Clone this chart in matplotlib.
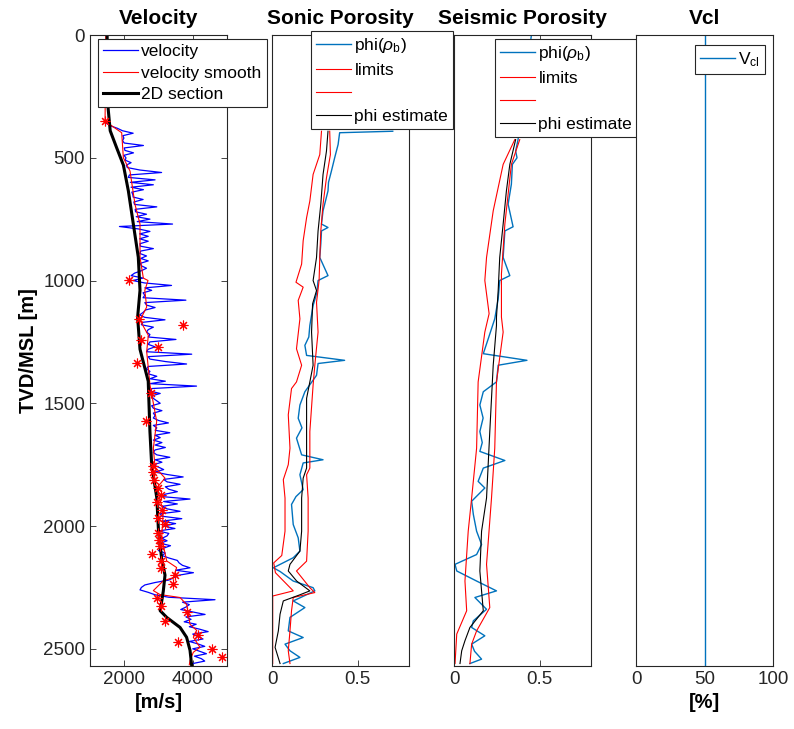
import numpy as np
import matplotlib
matplotlib.use("Agg")
import matplotlib.pyplot as plt

plt.rcParams["font.family"] = ["Liberation Sans", "DejaVu Sans"]
plt.rcParams["mathtext.fontset"] = "custom"
plt.rcParams["mathtext.rm"] = "Liberation Sans"
plt.rcParams["mathtext.it"] = "Liberation Sans:italic"

# ---- velocity panel ----
vel_depth = np.arange(360, 2561, 10)
vel_log = [
    1480, 1600, 1800, 1950, 2260, 1960, 1990, 1950, 2000, 2560,
    2000, 2020, 2270, 1990, 2050, 2030, 2200, 2060, 2090, 2460,
    3090, 2150, 2120, 2900, 2180, 2850, 2200, 2560, 2220, 2250,
    2260, 2550, 2280, 2300, 2950, 2320, 2330, 2650, 2350, 2750,
    2380, 3410, 1860, 2420, 2750, 2450, 2700, 2450, 2700, 2460,
    2470, 2850, 2480, 2460, 2650, 2480, 2700, 2470, 2500, 2650,
    2500, 2300, 2200, 2550, 2250, 2600, 3380, 2600, 2800, 2550,
    2600, 2550, 3800, 2600, 2650, 2900, 2620, 2550, 2450, 2600,
    3190, 2550, 2500, 2850, 2700, 2650, 2750, 2700, 3510, 2750,
    2700, 2900, 2700, 2650, 3970, 2700, 2750, 3200, 3820, 2700,
    2650, 2750, 2700, 2950, 2750, 3200, 2750, 4110, 2800, 2750,
    3050, 2800, 2850, 2950, 3050, 2800, 2850, 3100, 2850, 2900,
    2850, 3000, 3290, 2850, 2950, 2900, 3330, 2900, 3050, 2850,
    3100, 2900, 3200, 2900, 2850, 2950, 3330, 2900, 3100, 2850,
    3000, 3150, 2900, 3250, 3720, 3150, 3250, 3630, 3200, 3300,
    3550, 3200, 3100, 3920, 3150, 3550, 3100, 3250, 3630, 3050,
    3100, 3680, 3100, 3500, 3150, 3480, 3000, 3300, 3250, 3100,
    3250, 3050, 3350, 3150, 3000, 3200, 3100, 3300, 3550, 3600,
    3700, 3920, 3500, 4020, 3600, 3450, 3300, 2900, 2600, 2500,
    2460, 2700, 2900, 3300, 4650, 3700, 3900, 3800, 3650, 4000,
    4360, 3800, 3950, 3750, 4100, 3900, 4200, 4450, 4000, 4150,
    4300, 3900, 4150, 4350, 4000, 4200, 4400, 4050, 4250, 4350,
    4000,
]

smooth_depth = [0, 351, 398, 500, 554, 690, 770, 905, 990, 1000, 1040, 1108,
                1162, 1223, 1290, 1426, 1500, 1574, 1683, 1760, 1805, 1845,
                1940, 2048, 2142, 2169, 2210, 2223, 2263, 2279, 2291, 2320,
                2400, 2425, 2453, 2494, 2514, 2547, 2565]
smooth_vel = [1460, 1440, 1925, 1974, 2168, 2314, 2460, 2460, 2557, 2694, 2600,
              2655, 2460, 2703, 2655, 2752, 2850, 2947, 2849, 2900, 3190, 2947,
              3140, 3093, 3239, 3530, 3433, 3140, 2849, 3044, 3628, 3823, 3920,
              4115, 4017, 4212, 4017, 3920, 3900]

section_depth = [0, 300, 390, 460, 530, 635, 770, 905, 1040, 1150, 1280, 1410,
                 1615, 1750, 1885, 2020, 2130, 2200, 2265, 2345, 2372, 2413,
                 2453, 2506, 2570]
section_vel = [1500, 1530, 1590, 1780, 1975, 2120, 2265, 2410, 2460, 2390, 2460,
               2700, 2750, 2800, 2950, 3000, 3090, 3190, 3140, 3050, 3240, 3630,
               3820, 3920, 3970]

check_depth = [351, 996, 1156, 1183, 1244, 1271, 1334, 1460, 1571, 1757, 1780,
               1811, 1845, 1872, 1902, 1933, 1967, 1991, 2028, 2055, 2082, 2113,
               2143, 2172, 2199, 2234, 2294, 2325, 2352, 2386, 2442, 2474, 2501,
               2534]
check_vel = [1438, 2148, 2440, 3705, 2479, 2995, 2382, 2771, 2635, 2829, 2849,
             2868, 2995, 3063, 2946, 3092, 2995, 3189, 2995, 3024, 3043, 2800,
             3063, 3063, 3481, 3413, 2966, 3063, 3822, 3189, 4162, 3579, 4551,
             4843]

# ---- sonic porosity panel ----
son_phi_depth = [392, 398, 446, 500, 554, 600, 635, 716, 770, 784, 798, 850, 906,
                 980, 1000, 1050, 1102, 1183, 1230, 1264, 1305, 1325, 1338, 1386,
                 1453, 1507, 1561, 1600, 1642, 1710, 1730, 1743, 1791, 1852, 1880,
                 1912, 1994, 2048, 2102, 2129, 2170, 2185, 2224, 2251, 2264, 2305,
                 2332, 2372, 2427, 2454, 2481, 2508, 2535, 2560]
son_phi = [0.705, 0.395, 0.386, 0.366, 0.347, 0.330, 0.327, 0.298, 0.289, 0.327,
           0.289, 0.285, 0.279, 0.327, 0.269, 0.262, 0.240, 0.221, 0.215, 0.192,
           0.202, 0.424, 0.269, 0.260, 0.192, 0.163, 0.153, 0.175, 0.143, 0.173,
           0.298, 0.182, 0.163, 0.182, 0.140, 0.114, 0.124, 0.153, 0.163, 0.124,
           0.008, 0.047, 0.124, 0.240, 0.250, 0.124, 0.192, 0.105, 0.095, 0.182,
           0.076, 0.105, 0.163, 0.066]

son_est_depth = [392, 473, 568, 689, 798, 906, 1000, 1041, 1095, 1210, 1345, 1413,
                 1480, 1723, 1764, 1805, 1886, 2021, 2102, 2156, 2183, 2224, 2264,
                 2280, 2305, 2359, 2427, 2494, 2560]
son_est = [0.327, 0.318, 0.298, 0.285, 0.269, 0.260, 0.240, 0.260, 0.237, 0.231,
           0.240, 0.221, 0.202, 0.202, 0.202, 0.182, 0.173, 0.173, 0.163, 0.105,
           0.095, 0.144, 0.221, 0.163, 0.066, 0.047, 0.037, 0.018, 0.047]

son_lo_depth = [392, 487, 568, 676, 744, 838, 933, 1007, 1027, 1081, 1156, 1278,
                1345, 1413, 1440, 1547, 1683, 1750, 1811, 1886, 2021, 2120, 2150,
                2190, 2264, 2285, 2560]
son_lo = [0.289, 0.279, 0.240, 0.221, 0.202, 0.182, 0.173, 0.140, 0.182, 0.153,
          0.163, 0.143, 0.173, 0.143, 0.114, 0.095, 0.105, 0.095, 0.066, 0.076,
          0.076, 0.057, 0.010, 0.020, 0.124, 0.004, 0.004]

son_hi_depth = [392, 487, 582, 689, 798, 906, 1000, 1089, 1210, 1345, 1426, 1615,
                1764, 1791, 1886, 2021, 2143, 2183, 2251, 2271, 2291, 2345, 2427,
                2508, 2560]
son_hi = [0.337, 0.341, 0.318, 0.298, 0.285, 0.279, 0.275, 0.260, 0.269, 0.250,
          0.240, 0.221, 0.221, 0.202, 0.211, 0.211, 0.202, 0.143, 0.221, 0.250,
          0.124, 0.114, 0.105, 0.095, 0.105]

# ---- seismic porosity panel ----
sei_phi_depth = [0, 426, 473, 500, 527, 608, 689, 781, 798, 906, 980, 1000, 1075,
                 1156, 1237, 1298, 1325, 1345, 1413, 1453, 1507, 1560, 1615, 1660,
                 1696, 1733, 1764, 1818, 1845, 1899, 1953, 2021, 2075, 2116, 2156,
                 2183, 2224, 2264, 2291, 2339, 2386, 2413, 2447, 2481, 2510, 2542,
                 2560]
sei_phi = [0.452, 0.374, 0.360, 0.368, 0.341, 0.335, 0.316, 0.345, 0.297, 0.287,
           0.326, 0.267, 0.258, 0.238, 0.200, 0.171, 0.426, 0.258, 0.248, 0.171,
           0.151, 0.170, 0.151, 0.165, 0.151, 0.297, 0.171, 0.141, 0.180, 0.103,
           0.113, 0.132, 0.161, 0.132, 0.006, 0.016, 0.132, 0.248, 0.122, 0.190,
           0.113, 0.103, 0.180, 0.103, 0.120, 0.161, 0.093]

sei_est_depth = [426, 527, 635, 770, 906, 1041, 1149, 1183, 1345, 1615, 1886, 2021,
                 2183, 2345, 2413, 2467, 2508, 2560]
sei_est = [0.360, 0.326, 0.306, 0.287, 0.267, 0.258, 0.248, 0.248, 0.229, 0.209,
           0.190, 0.161, 0.151, 0.171, 0.093, 0.064, 0.045, 0.035]

sei_lo_depth = [426, 527, 716, 906, 1000, 1135, 1210, 1413, 1683, 1886, 2021, 2224,
                2345, 2440, 2560]
sei_lo = [0.355, 0.287, 0.229, 0.190, 0.180, 0.205, 0.180, 0.141, 0.132, 0.103,
          0.083, 0.064, 0.074, 0.016, 0.006]

sei_hi_depth = [426, 527, 770, 973, 1149, 1210, 1413, 1683, 1886, 2156, 2332, 2427,
                2481, 2560]
sei_hi = [0.384, 0.335, 0.297, 0.277, 0.277, 0.287, 0.248, 0.238, 0.219, 0.190,
          0.209, 0.132, 0.103, 0.093]

# ---- Vcl panel ----
vcl_depth = [0, 2570]
vcl = [50, 50]

DMAX = 2570
mblue = "#0072BD"
edge = "#262626"

fig = plt.figure(figsize=(7.94, 7.29), dpi=100)
W, H = 794, 729
bottom = 1 - 666 / H
height = 631 / H
lefts = [90, 272, 454, 636]
axs = [fig.add_axes([l / W, bottom, 137 / W, height]) for l in lefts]

for ax in axs:
    ax.set_ylim(DMAX, 0)
    for s in ax.spines.values():
        s.set_color(edge)
        s.set_linewidth(0.8)
    ax.tick_params(direction="in", length=4, width=0.6, colors=edge,
                   labelsize=13.5, top=True, right=True)


def add_legend(ax, handles, labels, x, y, spacing):
    leg = ax.legend(handles, labels, loc="upper left",
                    bbox_to_anchor=(x / W, 1 - y / H),
                    bbox_transform=fig.transFigure, borderaxespad=0,
                    fontsize=12.5, handlelength=2.0, handletextpad=0.2,
                    labelspacing=spacing, borderpad=0.3, fancybox=False,
                    framealpha=1)
    leg.get_frame().set_edgecolor(edge)
    leg.get_frame().set_linewidth(0.8)


# velocity
ax = axs[0]
h1, = ax.plot(vel_log, vel_depth, color="b", lw=0.9)
h2, = ax.plot(smooth_vel, smooth_depth, color="r", lw=0.8)
h3, = ax.plot(section_vel, section_depth, color="k", lw=2.2)
ax.plot(check_vel, check_depth, linestyle="none", marker=(8, 2, 0), ms=7,
        mec="r", mew=0.8)
ax.set_xlim(1000, 5000)
ax.set_xticks([2000, 4000])
ax.set_yticks([0, 500, 1000, 1500, 2000, 2500])
ax.set_title("Velocity", fontsize=15, fontweight="bold", pad=8)
ax.set_xlabel("[m/s]", fontsize=14.5, fontweight="bold")
ax.set_ylabel("TVD/MSL [m]", fontsize=14.5, fontweight="bold")
add_legend(ax, [h1, h2, h3], ["velocity", "velocity smooth", "2D section"],
           98, 39, 0.35)

# sonic porosity
ax = axs[1]
p1, = ax.plot(son_phi, son_phi_depth, color=mblue, lw=1.0)
p2, = ax.plot(son_lo, son_lo_depth, color="r", lw=0.8)
p3, = ax.plot(son_hi, son_hi_depth, color="r", lw=0.8)
p4, = ax.plot(son_est, son_est_depth, color="k", lw=0.8)
ax.set_xlim(0, 0.8)
ax.set_xticks([0, 0.5])
ax.set_xticklabels(["0", "0.5"])
ax.set_yticks([])
ax.set_title("Sonic Porosity", fontsize=15, fontweight="bold", pad=8)
add_legend(ax, [p1, p2, p3, p4],
           [r"phi($\rho_\mathrm{b}$)", "limits", "", "phi estimate"],
           311, 31, 0.45)

# seismic porosity
ax = axs[2]
q1, = ax.plot(sei_phi, sei_phi_depth, color=mblue, lw=1.0)
q2, = ax.plot(sei_lo, sei_lo_depth, color="r", lw=0.8)
q3, = ax.plot(sei_hi, sei_hi_depth, color="r", lw=0.8)
q4, = ax.plot(sei_est, sei_est_depth, color="k", lw=0.8)
ax.set_xlim(0, 0.8)
ax.set_xticks([0, 0.5])
ax.set_xticklabels(["0", "0.5"])
ax.set_yticks([])
ax.set_title("Seismic Porosity", fontsize=15, fontweight="bold", pad=8)
add_legend(ax, [q1, q2, q3, q4],
           [r"phi($\rho_\mathrm{b}$)", "limits", "", "phi estimate"],
           495, 39, 0.45)

# Vcl
ax = axs[3]
v1, = ax.plot(vcl, vcl_depth, color=mblue, lw=1.0)
ax.set_xlim(0, 100)
ax.set_xticks([0, 50, 100])
ax.set_yticks([])
ax.set_title("Vcl", fontsize=15, fontweight="bold", pad=8)
ax.set_xlabel("[%]", fontsize=14.5, fontweight="bold")
add_legend(ax, [v1], [r"V$_\mathrm{cl}$"], 695, 45, 0.3)

fig.savefig("out.png", dpi=100)
